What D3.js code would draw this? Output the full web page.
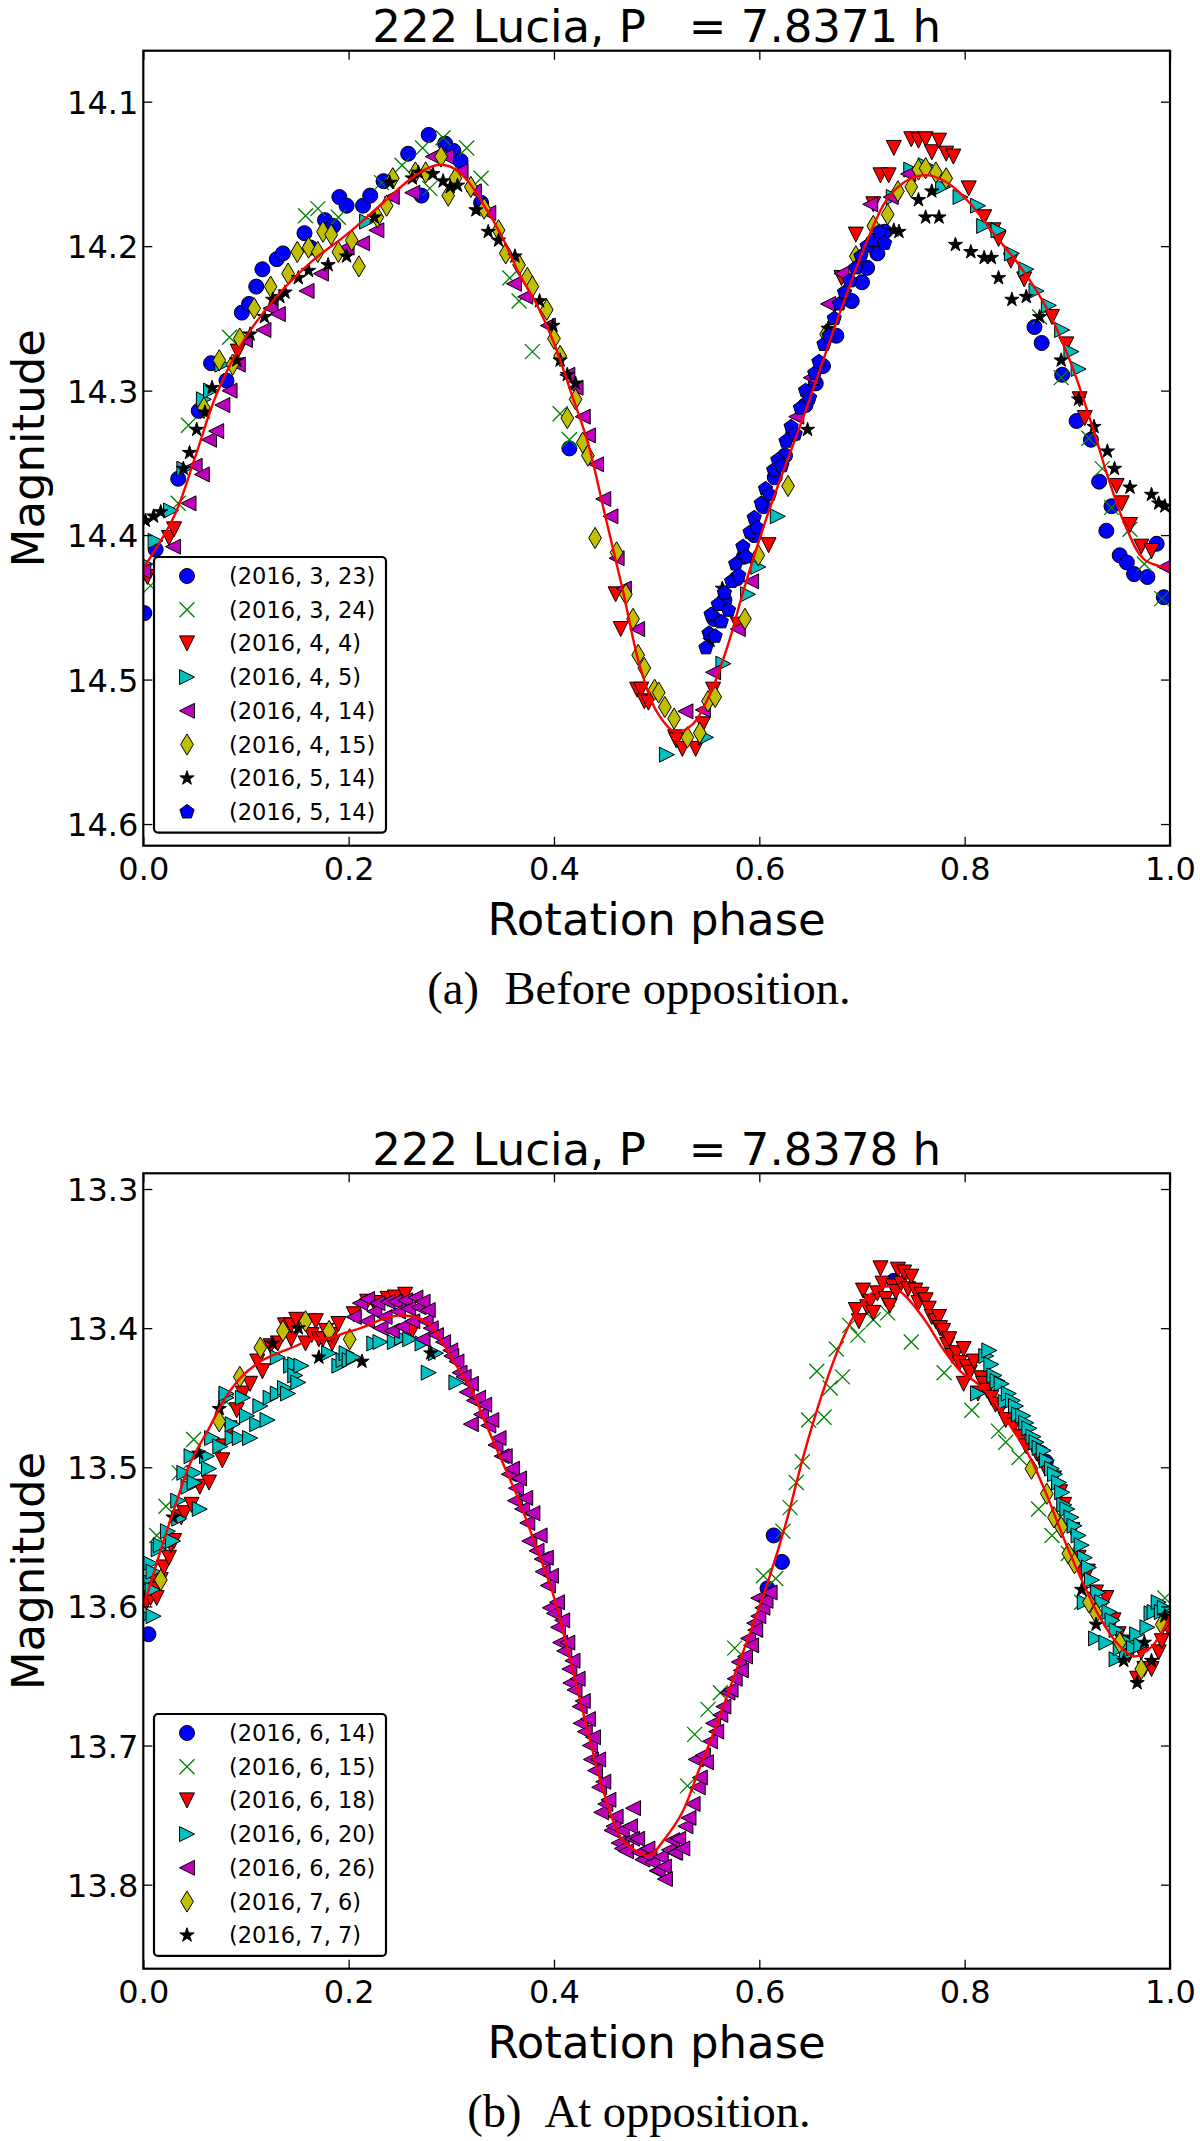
<!DOCTYPE html>
<html>
<head>
<meta charset="utf-8">
<script src="https://d3js.org/d3.v7.min.js"></script>
<style>
  body { margin: 0; background: #fff; }
  text { font-family: "DejaVu Sans", sans-serif; }
</style>
</head>
<body>
<script>
// ---- axis ticks and labels ----
const phaseTicks = [0.0, 0.2, 0.4, 0.6, 0.8, 1.0];
const magTicksA = [14.1, 14.2, 14.3, 14.4, 14.5, 14.6];
const magTicksB = [13.3, 13.4, 13.5, 13.6, 13.7, 13.8];
const magDomainA = [14.0647, 14.615];
const magDomainB = [13.2887, 13.8604];
const titleA = "222 Lucia, P   = 7.8371 h";
const titleB = "222 Lucia, P   = 7.8378 h";
const captionA = ["(a)", "Before opposition."];
const captionB = ["(b)", "At opposition."];
const labelsA = ["(2016, 3, 23)", "(2016, 3, 24)", "(2016, 4, 4)", "(2016, 4, 5)",
                 "(2016, 4, 14)", "(2016, 4, 15)", "(2016, 5, 14)", "(2016, 5, 14)"];
const labelsB = ["(2016, 6, 14)", "(2016, 6, 15)", "(2016, 6, 18)", "(2016, 6, 20)",
                 "(2016, 6, 26)", "(2016, 7, 6)", "(2016, 7, 7)"];

// ---- before opposition: [phase, magnitude] ----
const a0323 = [[0.001,14.454],[0.012,14.410],[0.034,14.361],[0.054,14.314],[0.066,14.281],[0.081,14.293],
  [0.096,14.246],[0.103,14.240],[0.110,14.228],[0.116,14.216],[0.130,14.209],[0.136,14.205],[0.157,14.191],
  [0.163,14.201],[0.177,14.182],[0.185,14.186],[0.191,14.166],[0.198,14.172],[0.214,14.172],[0.221,14.165],
  [0.234,14.155],[0.258,14.136],[0.271,14.165],[0.278,14.123],[0.294,14.129],[0.302,14.134],[0.309,14.141],
  [0.329,14.170],[0.415,14.340],[0.556,14.458],[0.566,14.445],[0.578,14.430],[0.585,14.415],[0.595,14.400],
  [0.604,14.380],[0.615,14.360],[0.625,14.345],[0.633,14.330],[0.645,14.310],[0.655,14.295],[0.662,14.283],
  [0.675,14.262],[0.690,14.238],[0.700,14.225],[0.705,14.215],[0.715,14.205],[0.722,14.190],
  [0.868,14.256],[0.875,14.267],[0.895,14.289],[0.909,14.321],[0.923,14.334],[0.931,14.363],[0.943,14.380],
  [0.938,14.397],[0.951,14.414],[0.958,14.419],[0.965,14.427],[0.978,14.429],[0.987,14.406],[0.994,14.443]];
const a0324 = [[0.007,14.435],[0.034,14.378],[0.044,14.324],[0.084,14.263],[0.158,14.179],[0.170,14.174],
  [0.190,14.180],[0.232,14.156],[0.252,14.144],[0.272,14.132],[0.292,14.125],[0.315,14.132],[0.329,14.153],
  [0.279,14.160],[0.357,14.222],[0.366,14.238],[0.379,14.273],[0.406,14.316],[0.415,14.334],
  [0.873,14.249],[0.894,14.291],[0.921,14.333],[0.934,14.354],[0.943,14.381],[0.961,14.396],[0.975,14.420],
  [0.992,14.444]];
const a0404 = [[0.004,14.429],[0.025,14.402],[0.030,14.396],[0.092,14.273],[0.460,14.441],[0.465,14.465],
  [0.481,14.507],[0.485,14.507],[0.488,14.515],[0.492,14.516],[0.518,14.540],[0.519,14.542],[0.525,14.548],
  [0.538,14.548],[0.545,14.531],[0.555,14.507],[0.579,14.462],[0.609,14.407],[0.680,14.222],[0.694,14.192],
  [0.711,14.171],[0.718,14.151],[0.726,14.151],[0.731,14.132],[0.748,14.126],[0.755,14.127],[0.762,14.126],
  [0.768,14.135],[0.775,14.127],[0.782,14.136],[0.789,14.138],[0.804,14.160],[0.819,14.180],[0.828,14.189],
  [0.833,14.195],[0.845,14.210],[0.858,14.223],[0.885,14.249],[0.899,14.268],[0.912,14.306],[0.917,14.319],
  [0.948,14.366],[0.953,14.378],[0.961,14.393],[0.972,14.408],[0.982,14.411]];
const a0405 = [[0.002,14.420],[0.012,14.404],[0.027,14.383],[0.040,14.354],[0.059,14.306],[0.066,14.300],
  [0.077,14.282],[0.218,14.183],[0.510,14.552],[0.548,14.540],[0.565,14.489],[0.589,14.441],[0.599,14.422],
  [0.618,14.387],[0.731,14.166],[0.748,14.147],[0.762,14.144],[0.779,14.159],[0.796,14.166],[0.813,14.172],
  [0.819,14.186],[0.833,14.189],[0.846,14.205],[0.860,14.216],[0.870,14.231],[0.882,14.241],[0.895,14.258],
  [0.904,14.273],[0.911,14.285]];
const a0414 = [[0.000,14.425],[0.029,14.408],[0.044,14.378],[0.050,14.352],[0.057,14.358],[0.064,14.334],
  [0.071,14.328],[0.077,14.310],[0.084,14.300],[0.092,14.282],[0.099,14.265],[0.117,14.258],[0.124,14.243],
  [0.131,14.247],[0.159,14.231],[0.173,14.219],[0.198,14.201],[0.213,14.198],[0.227,14.189],[0.242,14.166],
  [0.262,14.163],[0.282,14.138],[0.295,14.138],[0.309,14.148],[0.322,14.162],[0.336,14.177],[0.361,14.226],
  [0.372,14.235],[0.394,14.255],[0.413,14.289],[0.421,14.298],[0.428,14.318],[0.433,14.331],[0.441,14.351],
  [0.448,14.375],[0.455,14.387],[0.461,14.416],[0.468,14.437],[0.481,14.465],[0.528,14.522],[0.545,14.521],
  [0.555,14.495],[0.579,14.465],[0.592,14.432],[0.636,14.318],[0.650,14.291],[0.667,14.240],[0.680,14.219],
  [0.708,14.171],[0.728,14.166],[0.745,14.150],[0.995,14.422]];
const a0415 = [[0.059,14.312],[0.074,14.279],[0.087,14.282],[0.094,14.264],[0.108,14.243],[0.124,14.228],
  [0.141,14.219],[0.150,14.204],[0.161,14.201],[0.170,14.204],[0.175,14.190],[0.183,14.192],[0.190,14.204],
  [0.203,14.196],[0.210,14.214],[0.228,14.180],[0.237,14.172],[0.243,14.153],[0.265,14.149],[0.275,14.149],
  [0.290,14.138],[0.297,14.165],[0.304,14.153],[0.319,14.159],[0.332,14.174],[0.346,14.189],[0.353,14.205],
  [0.366,14.213],[0.374,14.222],[0.379,14.228],[0.393,14.244],[0.400,14.264],[0.406,14.276],[0.413,14.319],
  [0.421,14.306],[0.428,14.336],[0.433,14.345],[0.440,14.402],[0.461,14.412],[0.470,14.441],[0.477,14.458],
  [0.482,14.483],[0.488,14.492],[0.498,14.507],[0.502,14.509],[0.508,14.519],[0.517,14.527],[0.530,14.540],
  [0.542,14.537],[0.550,14.515],[0.557,14.512],[0.586,14.458],[0.599,14.414],[0.628,14.366],[0.665,14.261],
  [0.694,14.207],[0.711,14.186],[0.725,14.178],[0.735,14.162],[0.748,14.159],[0.755,14.147],[0.762,14.146],
  [0.772,14.149],[0.782,14.153]];
const a0514 = [[0.002,14.390],[0.010,14.387],[0.017,14.384],[0.039,14.354],[0.045,14.343],[0.052,14.327],
  [0.060,14.315],[0.067,14.298],[0.091,14.279],[0.104,14.261],[0.118,14.249],[0.126,14.237],[0.133,14.235],
  [0.138,14.232],[0.151,14.222],[0.161,14.217],[0.180,14.213],[0.198,14.207],[0.225,14.180],[0.240,14.156],
  [0.262,14.153],[0.268,14.149],[0.282,14.150],[0.292,14.155],[0.299,14.159],[0.306,14.158],[0.324,14.175],
  [0.336,14.190],[0.346,14.196],[0.362,14.207],[0.386,14.238],[0.399,14.255],[0.406,14.279],[0.413,14.289],
  [0.421,14.295],[0.552,14.473],[0.564,14.437],[0.647,14.327],[0.667,14.257],[0.731,14.189],[0.736,14.190],
  [0.755,14.168],[0.762,14.180],[0.768,14.162],[0.775,14.180],[0.791,14.199],[0.806,14.204],[0.819,14.208],
  [0.826,14.208],[0.833,14.222],[0.846,14.237],[0.860,14.235],[0.873,14.249],[0.894,14.279],[0.911,14.306],
  [0.926,14.325],[0.939,14.342],[0.946,14.354],[0.961,14.367],[0.982,14.372],[0.989,14.378],[0.995,14.380]];
const a0514b = [[0.548,14.478],[0.551,14.468],[0.553,14.455],[0.557,14.470],[0.560,14.448],[0.563,14.460],
  [0.566,14.440],[0.570,14.452],[0.573,14.432],[0.577,14.420],[0.580,14.428],[0.584,14.408],[0.587,14.415],
  [0.591,14.398],[0.595,14.388],[0.598,14.395],[0.602,14.378],[0.606,14.368],[0.610,14.372],[0.614,14.355],
  [0.618,14.348],[0.622,14.352],[0.626,14.335],[0.631,14.325],[0.635,14.330],[0.640,14.312],[0.645,14.300],
  [0.649,14.305],[0.654,14.288],[0.658,14.280],[0.663,14.268],[0.668,14.262],[0.673,14.250],[0.678,14.240],
  [0.683,14.232],[0.688,14.224],[0.694,14.215],[0.699,14.207],[0.705,14.200],[0.711,14.196],[0.717,14.190],
  [0.722,14.198]];
const fitA = [[0.000,14.423],[0.030,14.387],[0.051,14.345],[0.071,14.303],[0.098,14.265],[0.131,14.234],
  [0.165,14.210],[0.198,14.192],[0.232,14.171],[0.265,14.151],[0.285,14.144],[0.299,14.145],[0.315,14.154],
  [0.332,14.172],[0.349,14.193],[0.366,14.219],[0.383,14.240],[0.400,14.267],[0.416,14.300],[0.433,14.336],
  [0.450,14.387],[0.467,14.438],[0.483,14.489],[0.500,14.522],[0.518,14.536],[0.535,14.531],[0.552,14.510],
  [0.569,14.477],[0.586,14.435],[0.609,14.384],[0.643,14.318],[0.677,14.249],[0.704,14.198],[0.724,14.168],
  [0.745,14.154],[0.765,14.151],[0.785,14.157],[0.806,14.171],[0.829,14.192],[0.853,14.213],[0.880,14.243],
  [0.904,14.282],[0.924,14.324],[0.941,14.363],[0.958,14.396],[0.975,14.417],[1.000,14.423]];

// ---- at opposition: [phase, magnitude] ----
const b0614 = [[0.005,13.620],[0.608,13.587],[0.614,13.549],[0.622,13.568],[0.731,13.366],[0.879,13.496]];
const b0615 = [[0.002,13.591],[0.007,13.575],[0.013,13.549],[0.022,13.528],[0.035,13.504],[0.049,13.480],
  [0.081,13.453],[0.530,13.729],[0.537,13.692],[0.550,13.674],[0.562,13.662],[0.576,13.630],[0.604,13.578],
  [0.616,13.580],[0.623,13.546],[0.630,13.529],[0.636,13.511],[0.642,13.496],[0.648,13.466],[0.663,13.464],
  [0.656,13.431],[0.669,13.443],[0.681,13.435],[0.675,13.415],[0.688,13.398],[0.696,13.405],[0.711,13.394],
  [0.725,13.389],[0.748,13.410],[0.780,13.432],[0.807,13.459],[0.833,13.474],[0.840,13.482],[0.853,13.493],
  [0.872,13.530],[0.885,13.549],[0.901,13.562],[0.914,13.597],[0.995,13.594]];
const b0618 = [[0.003,13.597],[0.007,13.594],[0.010,13.581],[0.012,13.588],[0.013,13.594],[0.017,13.581],
  [0.020,13.572],[0.025,13.565],[0.027,13.556],[0.030,13.553],[0.037,13.536],[0.040,13.533],[0.047,13.527],
  [0.055,13.514],[0.064,13.511],[0.074,13.485],[0.077,13.495],[0.084,13.472],[0.091,13.459],[0.097,13.447],
  [0.104,13.440],[0.111,13.424],[0.116,13.431],[0.124,13.413],[0.131,13.411],[0.138,13.398],[0.144,13.408],
  [0.144,13.398],[0.149,13.394],[0.158,13.411],[0.164,13.405],[0.168,13.395],[0.171,13.408],[0.175,13.408],
  [0.178,13.402],[0.184,13.411],[0.184,13.405],[0.190,13.397],[0.205,13.390],[0.218,13.381],[0.225,13.382],
  [0.231,13.382],[0.238,13.379],[0.245,13.378],[0.255,13.376],[0.262,13.402],
  [0.694,13.387],[0.697,13.395],[0.701,13.373],[0.705,13.385],[0.708,13.381],[0.711,13.389],[0.715,13.375],
  [0.718,13.357],[0.720,13.368],[0.723,13.379],[0.727,13.384],[0.730,13.370],[0.733,13.374],[0.735,13.358],
  [0.738,13.368],[0.741,13.360],[0.745,13.372],[0.748,13.363],[0.752,13.373],[0.755,13.382],[0.758,13.376],
  [0.762,13.380],[0.765,13.386],[0.768,13.392],[0.772,13.395],[0.775,13.392],[0.776,13.400],[0.779,13.402],
  [0.783,13.412],[0.785,13.408],[0.788,13.420],[0.792,13.418],[0.795,13.425],[0.799,13.415],[0.799,13.440],
  [0.802,13.428],[0.805,13.432],[0.809,13.424],[0.813,13.447],[0.816,13.436],[0.818,13.440],[0.822,13.445],
  [0.826,13.450],[0.830,13.455],[0.835,13.458],[0.840,13.466],[0.848,13.470],[0.855,13.478],[0.860,13.485],
  [0.870,13.490],[0.878,13.500],[0.887,13.508],[0.893,13.518],[0.897,13.527],[0.905,13.545],[0.911,13.565],
  [0.914,13.575],[0.920,13.575],[0.928,13.590],[0.938,13.594],[0.945,13.610],[0.950,13.620],[0.955,13.626],
  [0.960,13.635],[0.968,13.652],[0.972,13.633],[0.975,13.645],[0.982,13.645],[0.989,13.633],[0.992,13.625],
  [0.998,13.615]];
const b0620 = [[0.002,13.607],[0.003,13.581],[0.007,13.569],[0.009,13.588],[0.010,13.575],[0.010,13.607],
  [0.015,13.559],[0.017,13.556],[0.024,13.546],[0.029,13.553],[0.034,13.524],[0.035,13.537],[0.040,13.504],
  [0.044,13.514],[0.047,13.492],[0.050,13.504],[0.050,13.511],[0.055,13.530],[0.062,13.492],[0.064,13.501],
  [0.067,13.479],[0.075,13.485],[0.081,13.450],[0.081,13.447],[0.087,13.479],[0.087,13.469],[0.094,13.479],
  [0.097,13.450],[0.101,13.463],[0.104,13.479],[0.111,13.469],[0.114,13.456],[0.121,13.466],[0.124,13.450],
  [0.131,13.447],[0.131,13.421],[0.138,13.443],[0.141,13.447],[0.144,13.427],[0.148,13.426],[0.148,13.434],
  [0.151,13.439],[0.154,13.427],[0.181,13.418],[0.191,13.427],[0.195,13.423],[0.198,13.418],[0.201,13.423],
  [0.205,13.421],[0.225,13.411],[0.231,13.410],[0.245,13.410],[0.252,13.407],[0.260,13.408],[0.272,13.411],
  [0.278,13.432],[0.285,13.418],[0.305,13.439],
  [0.813,13.447],[0.821,13.420],[0.824,13.416],[0.826,13.426],[0.829,13.434],[0.832,13.438],[0.836,13.440],
  [0.840,13.453],[0.843,13.447],[0.847,13.452],[0.850,13.456],[0.853,13.462],[0.857,13.463],[0.860,13.468],
  [0.863,13.472],[0.867,13.478],[0.870,13.482],[0.873,13.486],[0.877,13.488],[0.880,13.495],[0.885,13.501],
  [0.888,13.505],[0.892,13.511],[0.895,13.518],[0.897,13.527],[0.900,13.530],[0.904,13.536],[0.907,13.542],
  [0.911,13.549],[0.914,13.556],[0.917,13.565],[0.917,13.597],[0.921,13.572],[0.924,13.581],[0.928,13.623],
  [0.930,13.590],[0.934,13.597],[0.938,13.626],[0.941,13.604],[0.944,13.610],[0.948,13.617],[0.948,13.638],
  [0.952,13.630],[0.955,13.623],[0.958,13.635],[0.961,13.626],[0.965,13.630],[0.968,13.620],[0.972,13.628],
  [0.978,13.615],[0.982,13.605],[0.985,13.604],[0.989,13.597],[0.992,13.604],[0.995,13.601]];
const b0626 = [[0.205,13.392],[0.211,13.382],[0.218,13.379],[0.218,13.395],[0.225,13.388],[0.228,13.382],
  [0.231,13.400],[0.235,13.392],[0.238,13.381],[0.242,13.402],[0.245,13.381],[0.248,13.388],[0.252,13.399],
  [0.255,13.380],[0.258,13.386],[0.262,13.395],[0.265,13.378],[0.268,13.385],[0.272,13.381],[0.272,13.408],
  [0.275,13.395],[0.277,13.387],[0.280,13.400],[0.285,13.405],[0.292,13.410],[0.299,13.416],[0.300,13.420],
  [0.305,13.424],[0.308,13.432],[0.312,13.435],[0.315,13.446],[0.319,13.440],[0.319,13.469],[0.322,13.452],
  [0.326,13.450],[0.329,13.462],[0.332,13.455],[0.336,13.470],[0.339,13.466],[0.343,13.484],[0.346,13.479],
  [0.349,13.492],[0.352,13.492],[0.356,13.505],[0.359,13.501],[0.362,13.524],[0.363,13.515],[0.366,13.508],
  [0.369,13.530],[0.372,13.522],[0.374,13.540],[0.376,13.553],[0.379,13.533],[0.383,13.560],[0.386,13.549],
  [0.388,13.566],[0.389,13.575],[0.392,13.565],[0.394,13.585],[0.396,13.601],[0.397,13.578],[0.400,13.605],
  [0.403,13.597],[0.404,13.615],[0.406,13.626],[0.408,13.610],[0.410,13.632],[0.413,13.626],[0.415,13.645],
  [0.416,13.655],[0.418,13.639],[0.420,13.660],[0.423,13.652],[0.425,13.672],[0.426,13.684],[0.428,13.668],
  [0.430,13.690],[0.433,13.681],[0.435,13.700],[0.436,13.710],[0.438,13.694],[0.440,13.718],[0.443,13.710],
  [0.444,13.730],[0.446,13.748],[0.448,13.726],[0.450,13.742],[0.453,13.739],[0.456,13.761],[0.458,13.758],
  [0.460,13.751],[0.463,13.770],[0.466,13.761],[0.466,13.774],[0.470,13.776],[0.474,13.758],[0.476,13.767],
  [0.477,13.745],[0.481,13.767],[0.483,13.777],[0.486,13.782],[0.491,13.774],[0.493,13.780],[0.496,13.784],
  [0.500,13.790],[0.501,13.790],[0.504,13.780],[0.507,13.787],[0.508,13.796],[0.512,13.775],[0.515,13.768],
  [0.517,13.777],[0.518,13.777],[0.521,13.767],[0.525,13.774],[0.528,13.758],[0.531,13.752],[0.535,13.742],
  [0.538,13.710],[0.540,13.730],[0.542,13.723],[0.545,13.707],[0.548,13.712],[0.552,13.697],[0.555,13.684],
  [0.558,13.690],[0.562,13.678],[0.565,13.672],[0.569,13.662],[0.572,13.660],[0.576,13.652],[0.580,13.640],
  [0.582,13.646],[0.586,13.636],[0.589,13.623],[0.592,13.628],[0.595,13.612],[0.596,13.617],[0.599,13.607],
  [0.599,13.594],[0.603,13.601],[0.606,13.596],[0.610,13.590]];
const b0706 = [[0.017,13.581],[0.074,13.467],[0.094,13.435],[0.114,13.414],[0.136,13.402],[0.158,13.395],
  [0.181,13.402],[0.201,13.408],[0.865,13.501],[0.880,13.519],[0.887,13.536],[0.894,13.543],[0.901,13.562],
  [0.907,13.569],[0.921,13.597],[0.928,13.605],[0.951,13.626],[0.972,13.645],[0.992,13.613]];
const b0707 = [[0.029,13.536],[0.054,13.490],[0.074,13.458],[0.126,13.411],[0.151,13.400],[0.171,13.421],
  [0.213,13.424],[0.280,13.418],[0.914,13.588],[0.928,13.613],[0.955,13.639],[0.968,13.655],[0.975,13.626],
  [0.982,13.639],[0.995,13.607]];
const fitB = [[0.000,13.601],[0.013,13.569],[0.030,13.530],[0.047,13.495],[0.064,13.472],[0.080,13.450],
  [0.097,13.434],[0.114,13.424],[0.131,13.418],[0.148,13.413],[0.164,13.408],[0.181,13.407],[0.198,13.403],
  [0.215,13.399],[0.231,13.394],[0.248,13.391],[0.265,13.392],[0.278,13.397],[0.292,13.411],[0.305,13.427],
  [0.319,13.443],[0.332,13.466],[0.349,13.495],[0.366,13.524],[0.382,13.556],[0.399,13.591],[0.416,13.639],
  [0.433,13.690],[0.449,13.735],[0.466,13.767],[0.483,13.777],[0.493,13.779],[0.508,13.767],[0.525,13.748],
  [0.542,13.716],[0.559,13.684],[0.576,13.649],[0.592,13.617],[0.609,13.581],[0.626,13.540],[0.643,13.492],
  [0.660,13.450],[0.677,13.415],[0.694,13.389],[0.711,13.374],[0.728,13.370],[0.741,13.376],[0.762,13.395],
  [0.779,13.415],[0.796,13.431],[0.813,13.440],[0.829,13.453],[0.846,13.472],[0.863,13.492],[0.880,13.520],
  [0.897,13.552],[0.914,13.581],[0.931,13.607],[0.948,13.626],[0.965,13.636],[0.982,13.629],[1.000,13.607]];

// matplotlib classic colours and marker codes
const colors = { b: "#0000ff", g: "#008000", r: "#ff0000", c: "#00bfbf", m: "#bf00bf", y: "#bfbf00", k: "#000000" };
const MS = 15; // marker size in px

function markerPath(type, s) {
    // Marker outlines centred on (0,0), following matplotlib's shapes
    const h = s / 2;
    if (type === "o") return d3.symbol().type(d3.symbolCircle).size(Math.PI * h * h)();
    if (type === "v") return `M${-h},${-h}L${h},${-h}L0,${h}Z`;
    if (type === ">") return `M${-h},${-h}L${h},0L${-h},${h}Z`;
    if (type === "<") return `M${h},${-h}L${-h},0L${h},${h}Z`;
    if (type === "d") {
        const dy = 0.707 * s, dx = 0.6 * 0.707 * s;
        return `M0,${-dy}L${dx},0L0,${dy}L${-dx},0Z`;
    }
    if (type === "x") return `M${-h},${-h}L${h},${h}M${-h},${h}L${h},${-h}`;
    if (type === "*" || type === "p") {
        const pts = [];
        const n = type === "*" ? 10 : 5;
        for (let i = 0; i < n; i++) {
            const a = -Math.PI / 2 + i * 2 * Math.PI / n;
            const r = (type === "*" && i % 2) ? h * 0.382 : h;
            pts.push([r * Math.cos(a), r * Math.sin(a)]);
        }
        return "M" + pts.map(p => p.join(",")).join("L") + "Z";
    }
}

function styleMarker(sel, s) {
    if (s.marker === "x") {
        sel.attr("fill", "none").attr("stroke", s.color).attr("stroke-width", 1.3);
    } else {
        sel.attr("fill", s.color).attr("stroke", "#000").attr("stroke-width", 1);
    }
}

const svg = d3.select("body").append("svg")
    .attr("width", 1200)
    .attr("height", 2141);

function drawPanel(p) {
    const left = 143.3, right = 1170;
    const x = d3.scaleLinear().domain([0, 1]).range([left, right]);
    const y = d3.scaleLinear().domain(p.domain).range([p.top, p.bottom]);
    const g = svg.append("g");

    // Clip everything plotted to the axes box
    g.append("clipPath").attr("id", "clip-" + p.id)
        .append("rect")
        .attr("x", left).attr("y", p.top)
        .attr("width", right - left).attr("height", p.bottom - p.top);
    const plot = g.append("g").attr("clip-path", `url(#clip-${p.id})`);

    p.series.forEach(s => {
        plot.append("g")
            .selectAll("path")
            .data(s.data)
            .enter()
            .append("path")
            .attr("transform", d => `translate(${x(d[0])},${y(d[1])})`)
            .attr("d", markerPath(s.marker, MS))
            .call(styleMarker, s);
    });

    // Fitted light curve
    plot.append("path")
        .datum(p.fit)
        .attr("fill", "none")
        .attr("stroke", "#ff0000")
        .attr("stroke-width", 2.4)
        .attr("d", d3.line()
            .x(d => x(d[0]))
            .y(d => y(d[1]))
            .curve(d3.curveCatmullRom));

    // Axes with inward ticks on all four sides
    const fontTick = "32px";
    const bottomAxis = g.append("g")
        .attr("transform", `translate(0,${p.bottom})`)
        .call(d3.axisBottom(x).tickValues(phaseTicks).tickFormat(d3.format(".1f"))
            .tickSize(-9).tickSizeOuter(0).tickPadding(11.6));
    const leftAxis = g.append("g")
        .attr("transform", `translate(${left},0)`)
        .call(d3.axisLeft(y).tickValues(p.ticks).tickFormat(d3.format(".1f"))
            .tickSize(-9).tickSizeOuter(0).tickPadding(5));
    const topAxis = g.append("g")
        .attr("transform", `translate(0,${p.top})`)
        .call(d3.axisTop(x).tickValues(phaseTicks).tickFormat("").tickSize(-9).tickSizeOuter(0));
    const rightAxis = g.append("g")
        .attr("transform", `translate(${right},0)`)
        .call(d3.axisRight(y).tickValues(p.ticks).tickFormat("").tickSize(-9).tickSizeOuter(0));
    [bottomAxis, leftAxis, topAxis, rightAxis].forEach(a => {
        a.select(".domain").remove();
        a.selectAll(".tick line").attr("stroke", "#000").attr("stroke-width", 1.3);
        a.selectAll(".tick text")
            .attr("font-family", "DejaVu Sans")
            .style("font-size", fontTick)
            .attr("fill", "#000");
    });
    leftAxis.selectAll(".tick text").attr("dy", "0.36em");

    // Frame
    g.append("rect")
        .attr("x", left).attr("y", p.top)
        .attr("width", right - left).attr("height", p.bottom - p.top)
        .attr("fill", "none")
        .attr("stroke", "#000")
        .attr("stroke-width", 2.2);

    // Legend
    const rowH = 33.7;
    const legTop = p.legendTop;
    const legH = p.series.length * rowH + 6;
    const leg = g.append("g");
    leg.append("rect")
        .attr("x", 154).attr("y", legTop)
        .attr("width", 232).attr("height", legH)
        .attr("rx", 4)
        .attr("fill", "#fff")
        .attr("stroke", "#000")
        .attr("stroke-width", 2.2);
    p.series.forEach((s, i) => {
        const cy = legTop + 19 + i * rowH;
        leg.append("path")
            .attr("transform", `translate(187,${cy})`)
            .attr("d", markerPath(s.marker, MS))
            .call(styleMarker, s);
        leg.append("text")
            .attr("x", 229)
            .attr("y", cy + 8)
            .style("font-size", "22.5px")
            .attr("fill", "#000")
            .text(s.label);
    });

    // Title
    g.append("text")
        .attr("x", (left + right) / 2)
        .attr("y", p.top - 8.5)
        .attr("text-anchor", "middle")
        .style("font-size", "45px")
        .style("white-space", "pre")
        .text(p.title);

    // Axis labels
    g.append("text")
        .attr("x", (left + right) / 2)
        .attr("y", p.bottom + 89)
        .attr("text-anchor", "middle")
        .style("font-size", "45px")
        .text("Rotation phase");
    g.append("text")
        .attr("transform", `translate(44,${(p.top + p.bottom) / 2}) rotate(-90)`)
        .attr("text-anchor", "middle")
        .style("font-size", "45px")
        .text("Magnitude");

    // Sub-figure caption
    const cap = g.append("text")
        .attr("x", 639)
        .attr("y", p.bottom + 158.5)
        .attr("text-anchor", "middle")
        .style("font-family", "'Liberation Serif', 'Times New Roman', serif")
        .style("font-size", "46.5px")
        .style("white-space", "pre");
    cap.append("tspan").text(p.caption[0] + " ");
    cap.append("tspan").attr("dx", 14).text(p.caption[1]);
}

const markersA = ["o", "x", "v", ">", "<", "d", "*", "p"];
const colorsA = ["b", "g", "r", "c", "m", "y", "k", "b"];
const dataA = [a0323, a0324, a0404, a0405, a0414, a0415, a0514, a0514b];
const markersB = ["o", "x", "v", ">", "<", "d", "*"];
const colorsB = ["b", "g", "r", "c", "m", "y", "k"];
const dataB = [b0614, b0615, b0618, b0620, b0626, b0706, b0707];

drawPanel({
    id: "a", top: 50.7, bottom: 845.7, domain: magDomainA, ticks: magTicksA,
    title: titleA, caption: captionA, fit: fitA, legendTop: 557,
    series: dataA.map((d, i) => ({ data: d, marker: markersA[i], color: colors[colorsA[i]], label: labelsA[i] }))
});
drawPanel({
    id: "b", top: 1173.3, bottom: 1968.7, domain: magDomainB, ticks: magTicksB,
    title: titleB, caption: captionB, fit: fitB, legendTop: 1714,
    series: dataB.map((d, i) => ({ data: d, marker: markersB[i], color: colors[colorsB[i]], label: labelsB[i] }))
});
</script>
</body>
</html>
